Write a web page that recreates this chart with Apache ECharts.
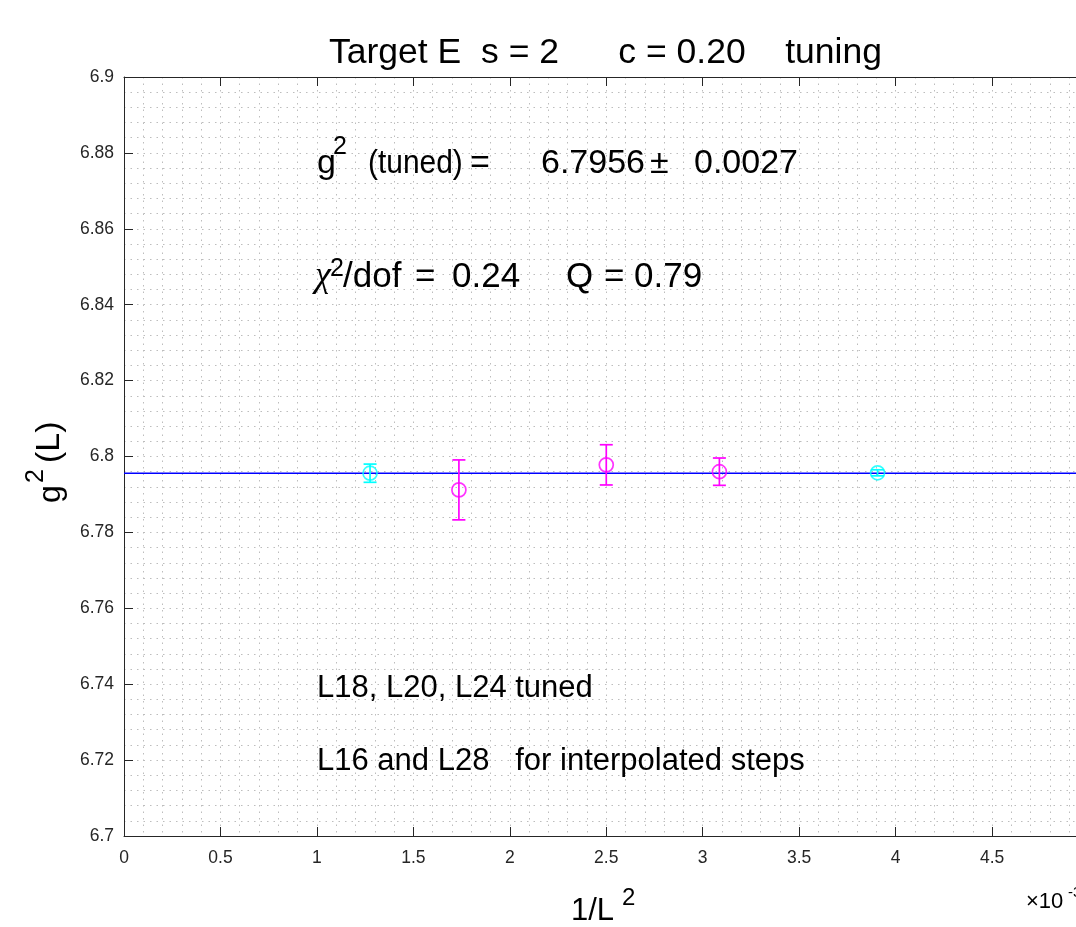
<!DOCTYPE html>
<html>
<head>
<meta charset="utf-8">
<script src="https://cdn.jsdelivr.net/npm/echarts@6/dist/echarts.min.js"></script>
<style>
  html, body { margin: 0; padding: 0; background: #ffffff; }
  #chart { width: 1076px; height: 927px; }
</style>
</head>
<body>
<div id="chart"></div>
<script>
// 1/L^2 in units of 1e-3, g^2(L) and its statistical error
const tunedLabels = ['L24', 'L20', 'L18'];
const tunedInvL2 = [1.7361, 2.5000, 3.0864];
const tunedG2 = [6.7912, 6.7978, 6.7960];
const tunedErr = [0.0079, 0.0053, 0.0036];

const interpLabels = ['L28', 'L16'];
const interpInvL2 = [1.2755, 3.9063];
const interpG2 = [6.7956, 6.7957];
const interpErr = [0.0024, 0.0008];

// constant fit
const fitG2 = 6.7956;
const fitRange = [0, 5];

// the visible x window stops a little short of 5e-3
const xTicks = { min: 0, max: 4.935, interval: 0.5 };
const yTicks = { min: 6.7, max: 6.9, interval: 0.02 };

const MAGENTA = '#ff00ff';
const CYAN = '#00ffff';
const FONT = '"Liberation Sans", Arial, Helvetica, sans-serif';

function points(xs, ys, errs) {
  return xs.map((x, i) => [x, ys[i], errs[i]]);
}

function errorBarSeries(name, data, color) {
  return {
    name: name,
    type: 'custom',
    z: 3,
    data: data,
    renderItem: function (params, api) {
      const x = api.value(0), y = api.value(1), e = api.value(2);
      const top = api.coord([x, y + e]);
      const bot = api.coord([x, y - e]);
      const half = 6.5;
      const style = { stroke: color, lineWidth: 1.7, fill: null };
      return {
        type: 'group',
        children: [
          { type: 'line', shape: { x1: top[0], y1: top[1], x2: bot[0], y2: bot[1] }, style: style },
          { type: 'line', shape: { x1: top[0] - half, y1: top[1], x2: top[0] + half, y2: top[1] }, style: style },
          { type: 'line', shape: { x1: bot[0] - half, y1: bot[1], x2: bot[0] + half, y2: bot[1] }, style: style }
        ]
      };
    }
  };
}

function markerSeries(name, data, color) {
  return {
    name: name,
    type: 'scatter',
    z: 4,
    symbol: 'circle',
    symbolSize: 14,
    data: data.map(d => [d[0], d[1]]),
    itemStyle: { color: 'rgba(0,0,0,0)', borderColor: color, borderWidth: 1.7 },
    emphasis: { disabled: true }
  };
}

// text piece anchored at the bottom-left of its box
function txt(text, x, y, size, opts) {
  opts = opts || {};
  return {
    type: 'text',
    z: 10,
    x: x, y: y,
    scaleX: opts.scaleX || 1,
    style: {
      text: text, x: 0, y: 0,
      font: opts.font || (size + 'px ' + FONT),
      fill: '#000000',
      textVerticalAlign: 'bottom'
    }
  };
}

// show only labels on the half-unit grid
function halfStepLabel(v) {
  return Math.abs(v * 2 - Math.round(v * 2)) < 1e-6 ? String(parseFloat(v.toFixed(2))) : '';
}

const chart = echarts.init(document.getElementById('chart'), null, { renderer: 'canvas' });

const gridLine = { color: '#bdbdbd', width: 1, type: [1.5, 5] };
const axisColor = '#262626';

const option = {
  animation: false,
  backgroundColor: '#ffffff',
  grid: { left: 124, top: 77, right: 0, bottom: 91, containLabel: false },
  xAxis: [
    {
      type: 'value',
      min: xTicks.min, max: xTicks.max, interval: xTicks.interval,
      position: 'bottom',
      axisLine: { show: true, onZero: false, lineStyle: { color: axisColor, width: 1 } },
      axisTick: { show: true, inside: true, length: 9, lineStyle: { color: axisColor } },
      axisLabel: { color: axisColor, fontSize: 17.5, fontFamily: FONT, margin: 13,
        showMaxLabel: false, formatter: halfStepLabel },
      splitLine: { show: true, lineStyle: gridLine },
      minorTick: { show: false, splitNumber: 5 },
      minorSplitLine: { show: true, lineStyle: gridLine }
    },
    {
      type: 'value',
      min: xTicks.min, max: xTicks.max, interval: xTicks.interval,
      position: 'top',
      axisLine: { show: true, onZero: false, lineStyle: { color: axisColor, width: 1 } },
      axisTick: { show: true, inside: true, length: 9, lineStyle: { color: axisColor } },
      axisLabel: { show: false },
      splitLine: { show: false }
    }
  ],
  yAxis: {
    type: 'value',
    min: yTicks.min, max: yTicks.max, interval: yTicks.interval,
    axisLine: { show: true, onZero: false, lineStyle: { color: axisColor, width: 1 } },
    axisTick: { show: true, inside: true, length: 9, lineStyle: { color: axisColor } },
    axisLabel: { color: axisColor, fontSize: 17.5, fontFamily: FONT, margin: 10,
      formatter: v => String(parseFloat(v.toFixed(2))) },
    splitLine: { show: true, lineStyle: gridLine },
    minorTick: { show: false, splitNumber: 5 },
    minorSplitLine: { show: true, lineStyle: gridLine }
  },
  series: [
    {
      name: 'fit',
      type: 'line',
      z: 2,
      symbol: 'none',
      data: fitRange.map(x => [x, fitG2]),
      lineStyle: { color: '#0000ff', width: 1.6 }
    },
    errorBarSeries('tuned err', points(tunedInvL2, tunedG2, tunedErr), MAGENTA),
    errorBarSeries('interp err', points(interpInvL2, interpG2, interpErr), CYAN),
    markerSeries('tuned', points(tunedInvL2, tunedG2, tunedErr), MAGENTA),
    markerSeries('interp', points(interpInvL2, interpG2, interpErr), CYAN)
  ],
  graphic: [
    // title
    txt('Target E  s = 2      c = 0.20    tuning', 329, 71, 35, { scaleX: 1.015 }),
    // fit result
    txt('g', 317, 181, 34),
    txt('2', 333, 160, 25),
    txt('(tuned)', 368, 181, 34, { scaleX: 0.88 }),
    txt('=', 470, 181, 34),
    txt('6.7956', 541, 181, 34),
    txt('\u00b1', 650, 181, 34),
    txt('0.0027', 694, 181, 34),
    // fit quality
    txt('\u03c7', 315, 295, 36, { font: 'italic 36px "Liberation Serif", "Times New Roman", serif' }),
    txt('2', 330, 282, 25),
    txt('/dof', 343, 295, 35),
    txt('=', 415, 295, 35),
    txt('0.24', 452, 295, 35),
    txt('Q', 566, 295, 35),
    txt('=', 604, 295, 35),
    txt('0.79', 634, 295, 35),
    // notes
    txt('L18, L20, L24 tuned', 317, 704, 31),
    txt('L16 and L28   for interpolated steps', 317, 777, 31),
    // x axis name
    txt('1/L', 571, 927, 31),
    txt('2', 622, 910, 24),
    // exponent
    txt('\u00d710', 1026, 913, 22),
    txt('-3', 1068, 900, 15),
    // y axis name, reading bottom to top
    {
      type: 'group',
      x: 67, y: 503, rotation: Math.PI / 2,
      children: [
        txt('g', 0, 0, 32),
        txt('2', 20, -18, 25),
        txt('(L)', 40, 0, 34)
      ]
    }
  ]
};

chart.setOption(option);
</script>
</body>
</html>
